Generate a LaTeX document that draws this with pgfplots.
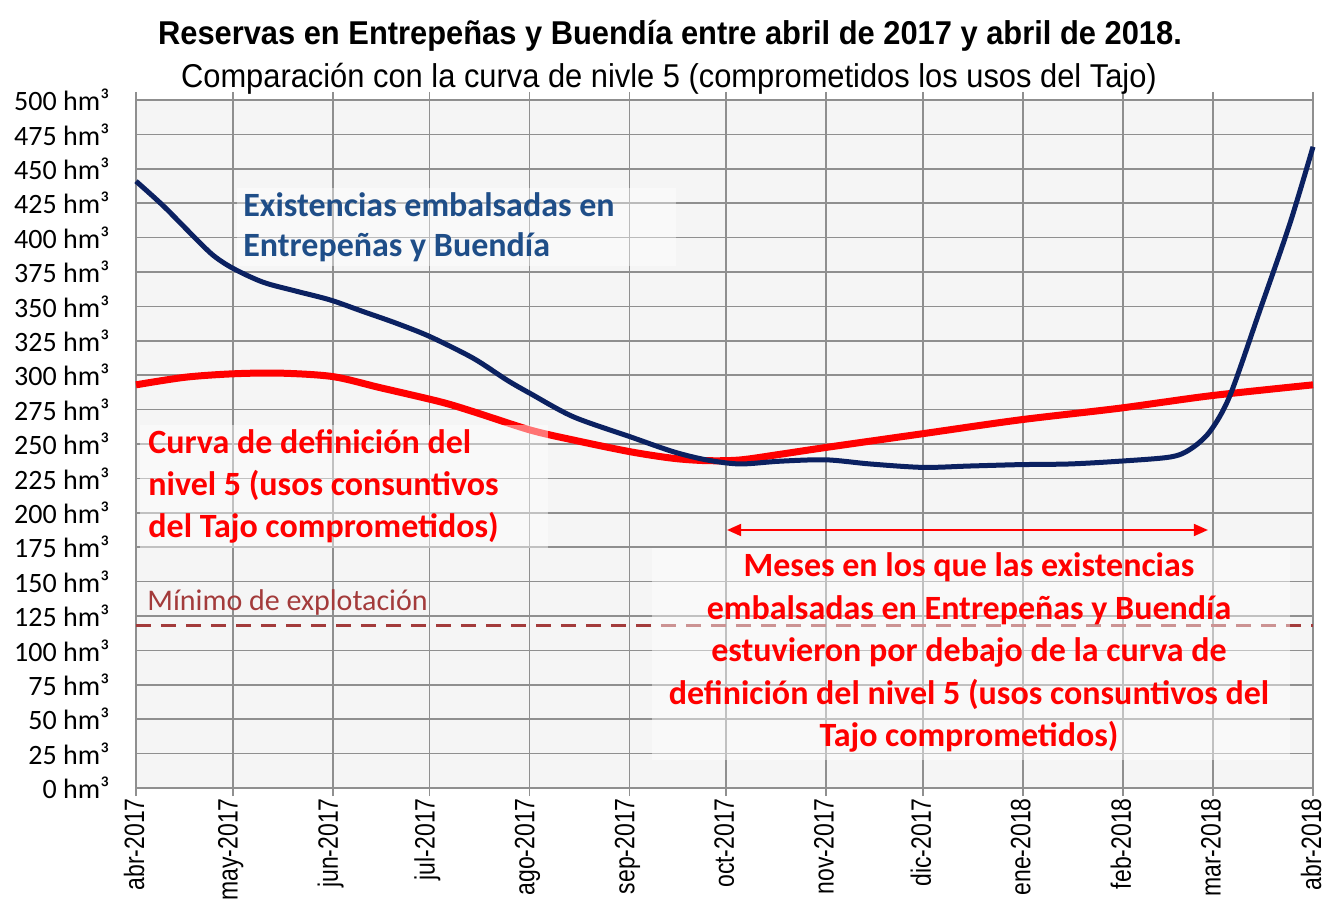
\documentclass[border=0pt]{standalone}
\usepackage{fontspec}
\setmainfont{Carlito}
\newfontfamily\narrowfont[FakeStretch=0.82]{Liberation Sans}
\newfontfamily\titlefont[FakeStretch=0.935]{Liberation Sans}
\usepackage{pgfplots}
\pgfplotsset{compat=1.18}
\usetikzlibrary{arrows.meta}
\definecolor{navy}{HTML}{0B2161}
\definecolor{bluetext}{HTML}{1F4E88}
\definecolor{mincol}{HTML}{A33B3B}
\definecolor{bgcol}{HTML}{F5F5F5}
\definecolor{gridcol}{HTML}{8F8F8F}
\pgfplotstableread{
d v
0 441
8.5 423
17.8 401
24 387
30.2 377.5
39.5 367.5
49.8 361
60.2 354.7
70.5 346.2
80.8 337.7
91.2 328
104.6 312.3
115 296.5
122.2 286.8
135.6 269.8
153.2 255.3
166.6 244.4
177 238.4
187.3 235.5
199.7 237.5
214 238.5
227.6 235.5
244 233
258.6 234
274 235
289.6 235.5
305 237.5
320.6 240.5
326.8 246
333 259
339.2 285
348.5 347
357.8 410
365 466
}\existencias
\pgfplotstableread{
d v
0 293
15.2 298.5
30 301
44.7 301.5
61 299
75.6 291
94.3 280.7
104.6 273.5
122.2 260.2
135.6 252.9
153.2 244.4
166.6 239.6
177 237.9
187.3 238.4
199.7 242.5
214 247.5
244 257.5
274 267.5
305 276
333 285
365 293
}\nivel
\begin{document}
\begin{tikzpicture}
\begin{axis}[name=ax, scale only axis, width=588.5pt, height=344pt,
  xmin=0, xmax=365, ymin=0, ymax=500, clip=false,
  axis background/.style={fill=bgcol},
  xtick={0,30,61,91,122,153,183,214,244,275,306,334,365},
  xticklabels={abr-2017,may-2017,jun-2017,jul-2017,ago-2017,sep-2017,oct-2017,nov-2017,dic-2017,ene-2018,feb-2018,mar-2018,abr-2018},
  ytick={0,25,...,500},
  yticklabels={0 hm³,25 hm³,50 hm³,75 hm³,100 hm³,125 hm³,150 hm³,175 hm³,200 hm³,225 hm³,250 hm³,275 hm³,300 hm³,325 hm³,350 hm³,375 hm³,400 hm³,425 hm³,450 hm³,475 hm³,500 hm³},
  grid=major, major grid style={gridcol, line width=0.8pt},
  axis line style={gridcol, line width=1pt},
  tick align=outside, major tick length=4pt,
  xtick style={gridcol, line width=0.8pt},
  ytick style={draw=none},
  yticklabel style={font=\fontsize{14}{14}\selectfont, anchor=east, inner sep=0pt, xshift=-9pt},
  xticklabel style={font=\narrowfont\fontsize{14}{14}\selectfont, yshift=-1pt, xshift=-1pt, rotate=90, anchor=east, inner sep=0pt},
]
\addplot[mincol, line width=1.75pt, dash pattern=on 7.5pt off 5pt] coordinates {(0,118) (365,118)};
\addplot[red, line width=3.5pt, smooth] table[x=d, y=v] {\nivel};
\addplot[navy, line width=2.5pt, smooth] table[x=d, y=v] {\existencias};
\addplot[red, line width=0.9pt, {Triangle[length=7pt,width=6pt]}-{Triangle[length=7pt,width=6pt]}] coordinates {(183.3,187.5) (332.4,187.5)};
\end{axis}
\begin{scope}[x=0.5pt, y=-0.5pt, shift={(ax.south west)}, shift={(-136,-788)}]
  \fill[white, opacity=0.4] (237,188) rectangle (676,266);
  \fill[white, opacity=0.45] (140,425) rectangle (548,548);
  \fill[white, opacity=0.45] (652,548) rectangle (1290,760);
  \node[anchor=base, font=\titlefont\bfseries\fontsize{16.5}{16.5}\selectfont, inner sep=0pt] at (670,45) {Reservas en Entrepeñas y Buendía entre abril de 2017 y abril de 2018.};
  \node[anchor=base, font=\titlefont\fontsize{16.5}{16.5}\selectfont, inner sep=0pt] at (669,88) {Comparación con la curva de nivle 5 (comprometidos los usos del Tajo)};
  \begin{scope}[every node/.style={font=\bfseries\fontsize{17}{17}\selectfont, inner sep=0pt}]
    \node[anchor=base west, text=bluetext] at (243,217) {Existencias embalsadas en};
    \node[anchor=base west, text=bluetext] at (243,257) {Entrepeñas y Buendía};
    \node[anchor=base west, text=red] at (148,454) {Curva de definición del};
    \node[anchor=base west, text=red] at (148,496) {nivel 5 (usos consuntivos};
    \node[anchor=base west, text=red] at (148,538) {del Tajo comprometidos)};
    \node[anchor=base, text=red] at (969,577) {Meses en los que las existencias};
    \node[anchor=base, text=red] at (969,620) {embalsadas en Entrepeñas y Buendía};
    \node[anchor=base, text=red] at (969,662) {estuvieron por debajo de la curva de};
    \node[anchor=base, text=red] at (969,705) {definición del nivel 5 (usos consuntivos del};
    \node[anchor=base, text=red] at (969,747) {Tajo comprometidos)};
  \end{scope}
  \node[anchor=base west, text=mincol, font=\fontsize{15}{15}\selectfont, inner sep=0pt] at (147,611) {Mínimo de explotación};
  \pgfresetboundingbox
  \path[use as bounding box] (0,0) rectangle (1325,898);
\end{scope}
\end{tikzpicture}
\end{document}
